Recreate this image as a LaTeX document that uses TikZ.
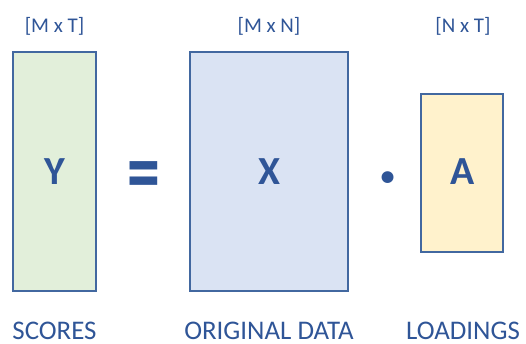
\documentclass[tikz,border=0pt]{standalone}
\usepackage{fontspec}
\setmainfont{Carlito}
\definecolor{txtblue}{HTML}{2F5597}
\definecolor{edgeblue}{HTML}{4268A0}
\definecolor{fillgreen}{HTML}{E2EFDA}
\definecolor{fillblue}{HTML}{DAE3F3}
\definecolor{fillyellow}{HTML}{FFF2CC}
\begin{document}
\begin{tikzpicture}[x=1bp,y=-1bp,
  matbox/.style={draw=edgeblue,line width=1.3bp},
  dimlabel/.style={text=txtblue,font=\fontsize{21}{23}\selectfont,inner sep=0pt},
  namelabel/.style={text=txtblue,font=\fontsize{27}{29}\selectfont,inner sep=0pt,anchor=base,text depth=0pt},
  symbol/.style={text=txtblue,font=\bfseries\fontsize{40}{44}\selectfont,inner sep=0pt}]
\useasboundingbox (0,0) rectangle (526,343);
% matrices
\draw[matbox,fill=fillgreen] (13,52) rectangle (96,291);
\draw[matbox,fill=fillblue] (190,52) rectangle (348,291);
\draw[matbox,fill=fillyellow] (421,94) rectangle (503,252);
% dimensions
\node[dimlabel] (dY) at (54.5,26) {[M x T]};
\node[dimlabel] (dX) at (269,26) {[M x N]};
\node[dimlabel] (dA) at (463,26) {[N x T]};
% matrix symbols and operators
\node[symbol] (Y) at (54.5,172) {Y};
\node[symbol] (eq) at (144,182) {\scalebox{1.65}[2.3]{=}};
\node[symbol] (X) at (269,172) {X};
\node[symbol,font=\bfseries\fontsize{64}{66}\selectfont] (dot) at (388,184) {·};
\node[symbol] (A) at (463,172) {A};
% names
\node[namelabel] (nY) at (54.5,339.5) {SCORES};
\node[namelabel] (nX) at (269,339.5) {ORIGINAL DATA};
\node[namelabel] (nA) at (463,339.5) {LOADINGS};
\end{tikzpicture}
\end{document}
